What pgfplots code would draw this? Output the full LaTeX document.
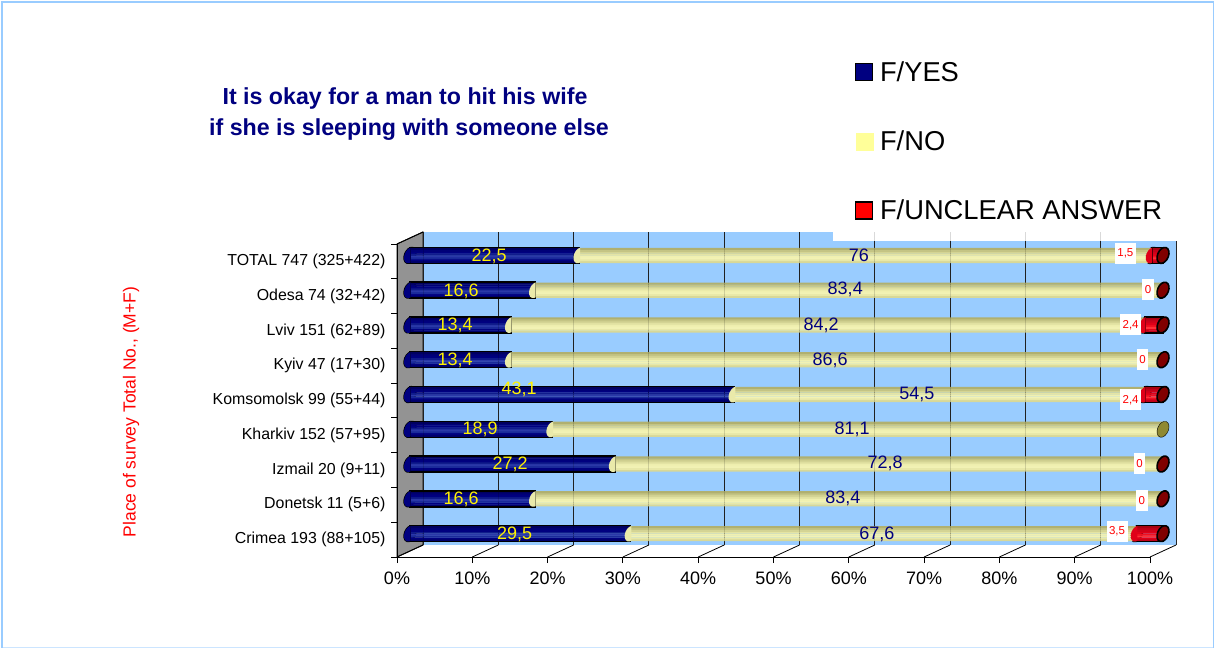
\documentclass[border=0pt]{standalone}
\usepackage{fontspec}
\setmainfont{Liberation Sans}
\usepackage{pgfplots}
\usepackage{pgfplotstable}
\pgfplotsset{compat=1.18}

\definecolor{Navy}{HTML}{000080}
\definecolor{WallBlue}{HTML}{99CCFF}
\definecolor{Pale}{HTML}{FFFF99}
\definecolor{DarkRed}{HTML}{800000}
\definecolor{YelCap}{HTML}{EAEAAA}
\definecolor{RedMid}{HTML}{E00018}
% stripes of each cylinder, top to bottom
\definecolor{B1}{HTML}{00006A}\definecolor{B2}{HTML}{000080}\definecolor{B3}{HTML}{1A2A9A}\definecolor{B4}{HTML}{2A38A8}
\definecolor{B5}{HTML}{101C8C}\definecolor{B6}{HTML}{000080}\definecolor{B7}{HTML}{000078}\definecolor{B8}{HTML}{000060}
\definecolor{Y1}{HTML}{D8D898}\definecolor{Y2}{HTML}{E8E8A8}\definecolor{Y3}{HTML}{F2F2B4}\definecolor{Y4}{HTML}{F0F0B0}
\definecolor{Y5}{HTML}{E4E4A4}\definecolor{Y6}{HTML}{D4D494}\definecolor{Y7}{HTML}{C4C484}\definecolor{Y8}{HTML}{B0B070}
\definecolor{R1}{HTML}{C00018}\definecolor{R2}{HTML}{E00018}\definecolor{R3}{HTML}{FF3038}\definecolor{R4}{HTML}{F01020}
\definecolor{R5}{HTML}{E00018}\definecolor{R6}{HTML}{D00018}\definecolor{R7}{HTML}{C00018}\definecolor{R8}{HTML}{A80010}

% slanted end of a cylinder, whole and left half only
\pgfdeclareplotmark{cylcap}{%
  \pgfpathellipse{\pgfpointorigin}{\pgfqpoint{5.2pt}{-1.6pt}}{\pgfqpoint{3pt}{7.8pt}}%
  \pgfusepathqfillstroke}
\pgfdeclareplotmark{cylleft}{%
  \pgfscope
  \pgfpathrectangle{\pgfqpoint{-10pt}{-10pt}}{\pgfqpoint{10.7pt}{20pt}}%
  \pgfusepath{clip}%
  \pgfpathellipse{\pgfpointorigin}{\pgfqpoint{5.2pt}{-1.6pt}}{\pgfqpoint{3pt}{7.8pt}}%
  \pgfusepathqfill
  \endpgfscope}

\pgfplotstableread{
pos yes no unclear
8 22.5 76.0 1.5
7 16.6 83.4 0
6 13.4 84.2 2.4
5 13.4 86.6 0
4 43.1 54.5 2.4
3 18.9 81.1 0
2 27.2 72.8 0
1 16.6 83.4 0
0 29.3 67.2 3.5
}\shares

% label positions: x, y, text
\pgfplotstableread{
x y lab
10.5 7.96 22,5
6.8 6.98 16,6
6.0 5.98 13,4
6.0 4.97 13,4
14.5 4.14 43,1
9.3 2.99 18,9
13.3 1.98 27,2
6.8 0.98 16,6
13.9 -0.03 29,5
}\yeslabels
\pgfplotstableread{
x y lab
59.6 7.99 76
57.8 7.01 83,4
54.6 6.00 84,2
55.8 4.97 86,6
67.3 3.99 54,5
58.7 2.99 81,1
63.1 2.01 72,8
57.5 1.01 83,4
62.0 -0.03 67,6
}\nolabels
\pgfplotstableread{
x y lab
95.0 8.05 1,5
98.0 7.01 0
95.7 6.00 2,4
97.3 5.00 0
95.7 3.85 2,4
96.9 2.01 0
97.2 0.95 0
93.9 0.06 3,5
}\unclearlabels

\pgfplotsset{
  plane/.style={scale only axis,width=753pt,height=313pt,xmin=0,xmax=100,ymin=-0.5,ymax=8.5,clip=false},
  midplane/.style={plane,at={(410pt,97pt)},anchor=south west,hide axis},
  bartext/.style={only marks,mark=none,point meta=explicit symbolic,nodes near coords,
    every node near coord/.append style={anchor=center,inner sep=0pt,#1}},
  capmark/.style={only marks,stack plots=false,forget plot,mark=cylcap,mark options={#1}},
  capleft/.style={only marks,stack plots=false,forget plot,mark=cylleft,mark options={#1}},
}

\begin{document}
\begin{tikzpicture}[x=1pt,y=1pt]
\useasboundingbox (0,0) rectangle (1214,648);
\fill[white] (0,0) rectangle (1214,648);
\fill[WallBlue] (1,0) rectangle (3,647);
\fill[WallBlue] (1,645) rectangle (1214,647);
\fill[WallBlue] (1213,0) rectangle (1214,647);
\fill[WallBlue!50!white] (3,0) rectangle (1213,1);

% side wall and floor of the box
\fill[gray!85,draw=black,line width=0.9pt] (397,91) -- (423,103) -- (423,416) -- (397,404) -- cycle;

% back wall
\begin{axis}[plane,at={(423pt,103pt)},anchor=south west,
    axis background/.style={fill=WallBlue},
    axis line style={draw=none},
    xtick={0,10,...,100},ytick=\empty,xticklabels={},
    major tick length=0pt,
    xmajorgrids,grid style={black!85,line width=0.9pt}]
\end{axis}
\fill[white] (833,406.5) rectangle (1178,417);
\foreach \k in {0,...,10}
  \draw[black,line width=0.8pt] ({397+75.3*\k},91) -- ({423+75.3*\k},103);

% outlined ends that lie under the cylinders
\begin{axis}[midplane]
\addplot[capmark={fill=Navy,draw=black,line width=1.4pt}]
  table[x expr=0,y=pos] {\shares};
\addplot[capmark={fill=RedMid,draw=black,line width=1.6pt}]
  coordinates {(98.5,8) (97.6,6) (97.6,4) (96.5,0)};
\end{axis}

% cylinders, half way into the box: stripes of flat colour
\foreach \i in {1,...,8} {
\pgfmathsetmacro\s{(\i-4.5)*1.875}
\begin{axis}[midplane]
\addplot[xbar stacked,/pgf/bar shift=\s pt,bar width=2.1pt,draw=none,fill=B\i] table[x=yes,y=pos] {\shares};
\addplot[xbar stacked,/pgf/bar shift=\s pt,bar width=2.1pt,draw=none,fill=Y\i] table[x=no,y=pos] {\shares};
\addplot[xbar stacked,/pgf/bar shift=\s pt,bar width=2.1pt,draw=none,fill=R\i] table[x=unclear,y=pos] {\shares};
\end{axis}
}

% outlines and the visible ends
\begin{axis}[midplane]
\addplot[xbar stacked,bar width=16pt,draw=black,line width=1.4pt,fill=none] table[x=yes,y=pos] {\shares};
\addplot[capleft={fill=Navy}] table[x expr=0,y=pos] {\shares};
\addplot[xbar stacked,bar width=16pt,draw=none,fill=none] table[x=no,y=pos] {\shares};
\addplot[capleft={fill=YelCap}] table[x=yes,y=pos] {\shares};
\addplot[xbar stacked,bar width=16pt,draw=black,line width=1.6pt,fill=none]
  table[x=unclear,y=pos] {\shares};
\addplot[capleft={fill=RedMid}]
  coordinates {(98.5,8) (97.6,6) (97.6,4) (96.5,0)};
\addplot[capmark={fill=DarkRed,draw=black,line width=1.6pt}]
  coordinates {(100,8) (100,7) (100,6) (100,5) (100,4) (100,2) (100,1) (100,0)};
\addplot[capmark={fill=olive!65!gray,draw=none}]
  coordinates {(100,3)};
\end{axis}

% wall lines showing faintly through the cylinders
\begin{axis}[plane,at={(423pt,103pt)},anchor=south west,
    axis line style={draw=none},
    xtick={0,10,...,90},ytick=\empty,xticklabels={},
    major tick length=0pt,
    xmajorgrids,grid style={black,line width=0.9pt,opacity=0.15}]
\end{axis}

% value labels and legend
\begin{axis}[midplane,
    legend style={at={(0.587,1.578)},anchor=north west,draw=none,fill=none,font=\fontsize{27.3}{30}\selectfont,row sep=44pt},
    legend cell align=left]
\addlegendimage{legend image code/.code={\fill[Navy,draw=black,line width=1.2pt] (0pt,-8.5pt) rectangle (17pt,8.5pt);\path (22pt,0pt);}}
\addlegendentry{F/YES}
\addlegendimage{legend image code/.code={\fill[Pale] (0pt,-8.5pt) rectangle (17pt,8.5pt);\path (22pt,0pt);}}
\addlegendentry{F/NO}
\addlegendimage{legend image code/.code={\fill[red,draw=black,line width=1.2pt] (0pt,-8.5pt) rectangle (17pt,8.5pt);\path (22pt,0pt);}}
\addlegendentry{F/UNCLEAR ANSWER}
\addplot[forget plot,bartext={font=\fontsize{18}{20}\selectfont,text=yellow}] table[x=x,y=y,meta=lab] {\yeslabels};
\addplot[forget plot,bartext={font=\fontsize{18}{20}\selectfont,text=Navy}] table[x=x,y=y,meta=lab] {\nolabels};
\addplot[forget plot,bartext={font=\fontsize{11.5}{13}\selectfont,text=red,fill=white,inner xsep=2.5pt,minimum height=21pt}] table[x=x,y=y,meta=lab] {\unclearlabels};
\end{axis}

% front edges, ticks and labels
\begin{axis}[plane,at={(397pt,91pt)},anchor=south west,
    axis x line*=bottom,axis y line*=left,axis line style={black,line width=0.9pt,-},
    xtick={0,10,...,100},
    xticklabels={0\%,10\%,20\%,30\%,40\%,50\%,60\%,70\%,80\%,90\%,100\%},
    ytick={0,...,8},
    yticklabels={Crimea 193 (88+105),Donetsk 11 (5+6),Izmail 20 (9+11),Kharkiv 152 (57+95),Komsomolsk 99 (55+44),Kyiv 47 (17+30),Lviv 151 (62+89),Odesa 74 (32+42),TOTAL 747 (325+422)},
    minor ytick={-0.5,0.5,...,8.5},
    tick align=outside,major tick length=6pt,minor tick length=6pt,
    major y tick style={draw=none},
    tick style={black,line width=0.9pt},
    minor y tick style={black,line width=0.9pt},
    x tick label style={font=\fontsize{18}{20}\selectfont,yshift=-5pt},
    y tick label style={font=\fontsize{15.9}{18}\selectfont,xshift=-2pt}]
\end{axis}
\draw[black,line width=0.9pt] (397,404) -- (423,416);

\node[rotate=90,text=red,font=\fontsize{17.5}{20}\selectfont] at (131,236) {Place of survey Total No., (M+F)};
\node[text=Navy,font=\fontsize{23.2}{26}\bfseries\selectfont] at (405,549) {It is okay for a man to hit his wife};
\node[text=Navy,font=\fontsize{23.2}{26}\bfseries\selectfont] at (409,518.5) {if she is sleeping with someone else};
\end{tikzpicture}
\end{document}
